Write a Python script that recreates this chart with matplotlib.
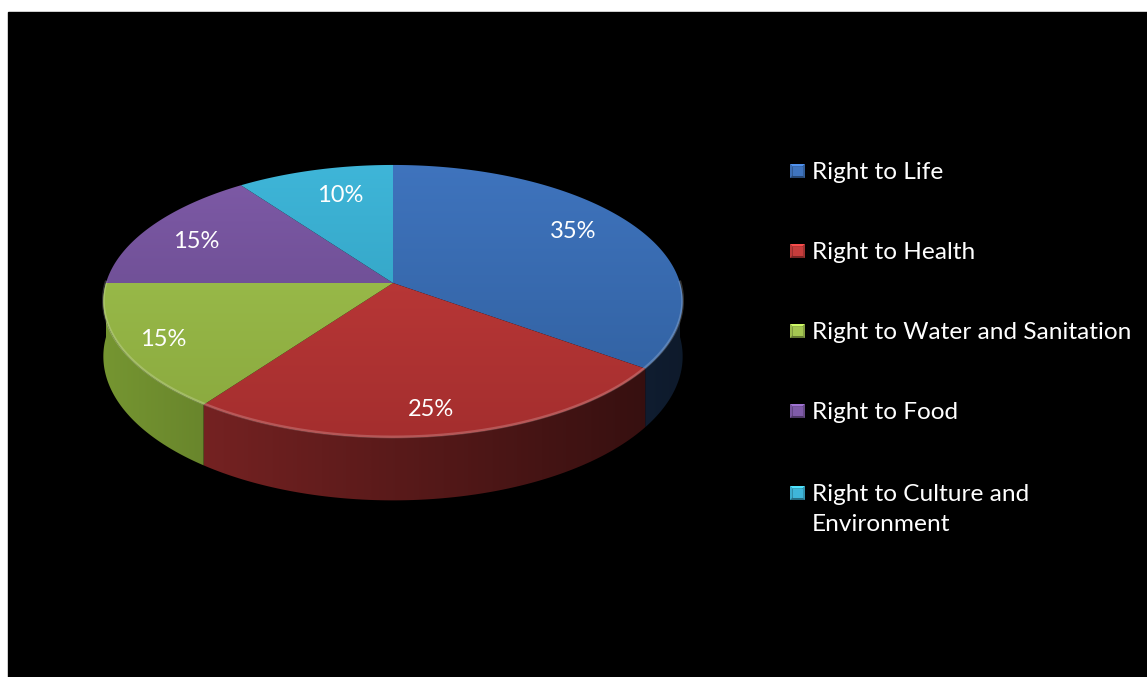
import numpy as np
import matplotlib
matplotlib.use("Agg")
import matplotlib.pyplot as plt
from matplotlib.patches import Polygon, Rectangle
from matplotlib.colors import to_rgb

labels = ["Right to Life", "Right to Health", "Right to Water and Sanitation",
          "Right to Food", "Right to Culture and\nEnvironment"]
shares = [35, 25, 15, 15, 10]
pct_text = ["35%", "25%", "15%", "15%", "10%"]

top_hi = ["#3f74be", "#c63d3c", "#a4c651", "#7f5ba8", "#3fb6d9"]
top_lo = ["#2f5e9c", "#a42e2e", "#88a73d", "#5f4483", "#2b97b6"]
side_col = ["#27497a", "#8a2828", "#7c9e34", "#5f4483", "#2b97b6"]

# pie geometry (pixels, y down)
cx, cy = 393, 283
A, B = 287, 134
d = 7.4
D = 54

W, H = 1147, 677
fig = plt.figure(figsize=(W / 100, H / 100), dpi=100, facecolor="white")
ax = fig.add_axes([0, 0, 1, 1])
ax.set_xlim(0, W)
ax.set_ylim(H, 0)
ax.axis("off")
ax.add_patch(Rectangle((8, 12), W - 8, H - 12, color="black", zorder=0))


def proj(theta, z=0.0):
    t = np.radians(theta)
    u, v = np.sin(t), -np.cos(t)
    s = 1.0 / (1.0 - v / d)
    return cx + A * u * s, cy + B * v * s + z * D * s


bounds = np.concatenate([[0], np.cumsum(shares)]) * 3.6
hgrad = np.linspace(0, 1, 256)[None, :]
vgrad = np.linspace(0, 1, 256)[:, None]

# side walls (front half only), horizontal shading
for i in range(len(shares)):
    a0, a1 = max(bounds[i], 90), min(bounds[i + 1], 270)
    if a1 <= a0:
        continue
    th = np.linspace(a0, a1, 200)
    pts = [proj(t) for t in th] + [proj(t, 1) for t in th[::-1]]
    poly = Polygon(pts, closed=True, facecolor="none", edgecolor="none", zorder=2)
    ax.add_patch(poly)
    c = np.array(to_rgb(side_col[i]))
    f = 0.95 - 0.6 * hgrad
    img = c[None, None, :] * f[:, :, None]
    im = ax.imshow(img, extent=(100, 690, 520, 260), aspect="auto", zorder=2,
                   interpolation="bilinear")
    im.set_clip_path(poly)

# top faces with vertical gradient
for i in range(len(shares)):
    th = np.linspace(bounds[i], bounds[i + 1], 200)
    pts = [(cx, cy)] + [proj(t) for t in th]
    poly = Polygon(pts, closed=True, facecolor="none", edgecolor="none", zorder=3)
    ax.add_patch(poly)
    c0 = np.array(to_rgb(top_hi[i]))
    c1 = np.array(to_rgb(top_lo[i]))
    img = c0[None, None, :] * (1 - vgrad[:, :, None]) + c1[None, None, :] * vgrad[:, :, None]
    im = ax.imshow(img, extent=(100, 690, 440, 160), aspect="auto", zorder=3,
                   interpolation="bilinear")
    im.set_clip_path(poly)

# light bevel along the front rim
th = np.linspace(90, 270, 300)
rim = np.array([proj(t) for t in th])
ax.plot(rim[:, 0], rim[:, 1] - 1, color="white", alpha=0.2, lw=2, zorder=4)

# percent labels
lab_pos = [(573, 232), (431, 410), (163, 340), (196, 241), (340, 196)]
for (x, y), t in zip(lab_pos, pct_text):
    ax.text(x, y, t, color="white", fontsize=17, family="Lato",
            ha="center", va="center", zorder=5)

# legend
leg_y = [171, 251, 331, 411, 493]
for i, (y, lab) in enumerate(zip(leg_y, labels)):
    x0, x1, y0, y1 = 790, 805, y - 7, y + 7
    b = 2.5
    base = np.array(to_rgb(top_hi[i]))
    ax.add_patch(Rectangle((x0, y0), x1 - x0, y1 - y0,
                           facecolor=np.clip(base * 0.6, 0, 1), lw=0, zorder=5))
    ax.add_patch(Polygon([(x0, y0), (x1, y0), (x1 - b, y0 + b), (x0 + b, y0 + b)],
                         facecolor=np.clip(base * 1.25, 0, 1), lw=0, zorder=6))
    ax.add_patch(Polygon([(x0, y0), (x0 + b, y0 + b), (x0 + b, y1 - b), (x0, y1)],
                         facecolor=np.clip(base * 0.95, 0, 1), lw=0, zorder=6))
    ax.add_patch(Polygon([(x1, y0), (x1 - b, y0 + b), (x1 - b, y1 - b), (x1, y1)],
                         facecolor=np.clip(base * 0.8, 0, 1), lw=0, zorder=6))
    ax.add_patch(Rectangle((x0 + b, y0 + b), x1 - x0 - 2 * b, y1 - y0 - 2 * b,
                           facecolor=base, lw=0, zorder=6))
    for k, line in enumerate(lab.split("\n")):
        ax.text(812, y + 8 + 30 * k, line, color="white", fontsize=17.6,
                family="Lato", ha="left", va="baseline", zorder=5)

fig.savefig("out.png", dpi=100, facecolor="white")
